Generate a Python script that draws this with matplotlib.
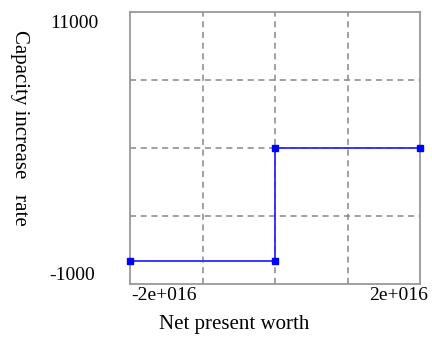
import matplotlib
matplotlib.use("Agg")
import matplotlib.pyplot as plt

# step data
npw = [-2e16, 0, 0, 2e16]
rate = [0, 0, 5000, 5000]
x_ticks = [-2e16, 2e16]
x_tick_labels = ["-2e+016", "2e+016"]
y_ticks = [-1000, 11000]
y_tick_labels = ["-1000", "11000"]
x_grid = [-1e16, 0, 1e16]
y_grid = [2000, 5000, 8000]

plt.rcParams["font.family"] = ["Liberation Serif", "DejaVu Serif"]

fig = plt.figure(figsize=(4.32, 3.38), dpi=100)
ax = fig.add_axes([130 / 432, 1 - 284 / 338, 290 / 432, 272 / 338])

ax.plot(npw, rate, color="#2a2aff", lw=1.3, marker="s", ms=4,
        mfc="#0000ff", mec="#0000ff", clip_on=False, zorder=3)

for gx in x_grid:
    ax.axvline(gx, color="#888888", ls=(0, (4, 3)), lw=1.1, zorder=1)
for gy in y_grid:
    ax.axhline(gy, color="#888888", ls=(0, (4, 3)), lw=1.1, zorder=1)

ax.set_xlim(-2e16, 2e16)
ax.set_ylim(-1000, 11000)
ax.set_xticks([])
ax.set_yticks([])

# end labels sit a little inside / outside the corners, so place them by hand
px = 0.72  # points per pixel at dpi 100
x_offsets = [(1, "left"), (8, "right")]
for val, lab, (dx, ha) in zip(x_ticks, x_tick_labels, x_offsets):
    ax.annotate(lab, xy=(val, -1000), xytext=(dx * px, -11 * px),
                textcoords="offset points", ha=ha, va="center", fontsize=14,
                annotation_clip=False)
y_offsets = [(-35, 9), (-32, -12)]
for val, lab, (dx, dy) in zip(y_ticks, y_tick_labels, y_offsets):
    ax.annotate(lab, xy=(-2e16, val), xytext=(dx * px, dy * px),
                textcoords="offset points", ha="right", va="center", fontsize=14,
                annotation_clip=False)

for s in ax.spines.values():
    s.set_color("#999999")
    s.set_linewidth(1.3)

fig.text(234 / 432, 1 - 325 / 338, "Net present worth", fontsize=15,
         ha="center", va="center")
fig.text(19 / 432, 1 - 128 / 338, "Capacity increase   rate", fontsize=15,
         rotation=270, ha="center", va="center")

fig.savefig("out.png", dpi=100)
